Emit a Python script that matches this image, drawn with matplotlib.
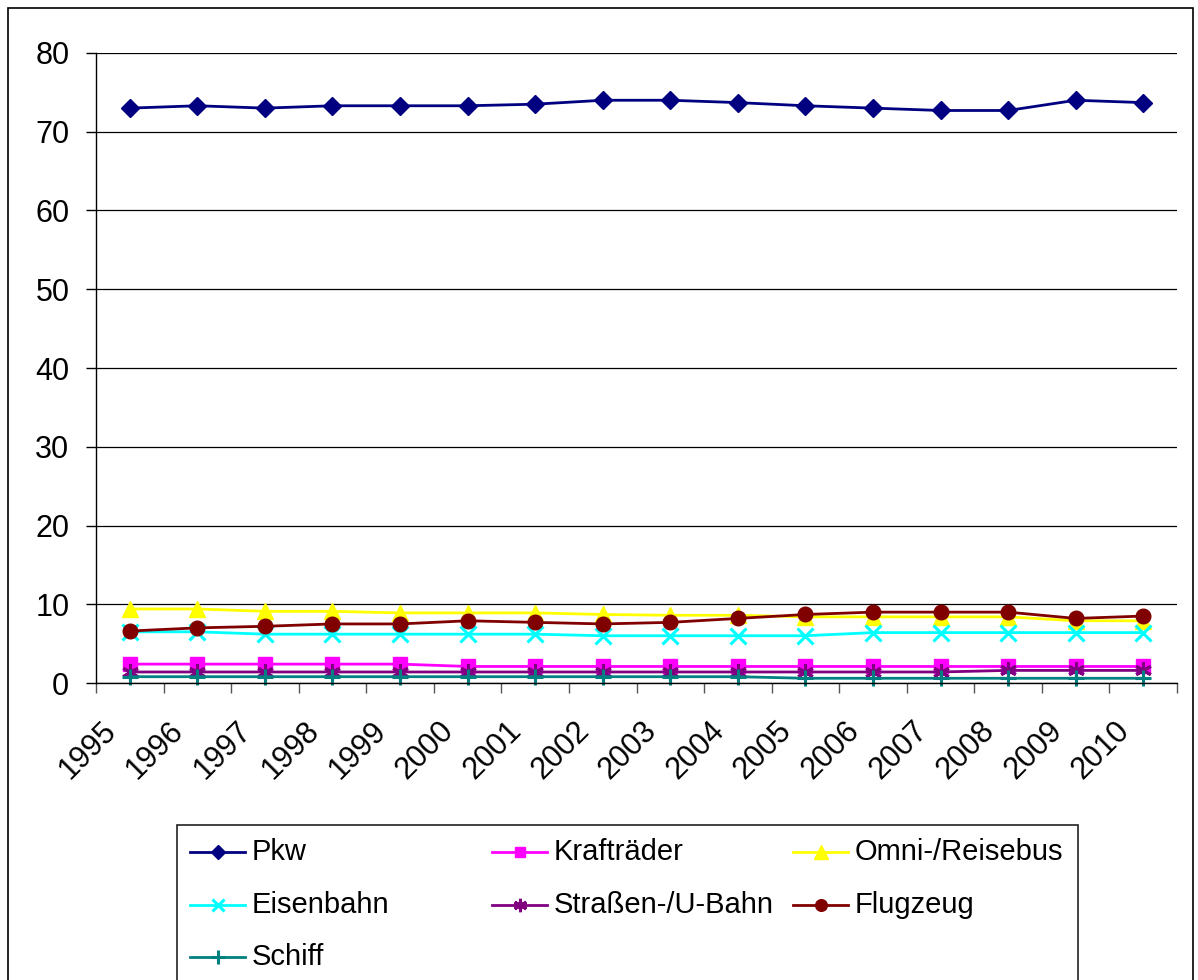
import matplotlib
matplotlib.use("Agg")
import matplotlib.pyplot as plt
from matplotlib.lines import Line2D
from matplotlib.patches import Rectangle
from matplotlib.transforms import ScaledTranslation
import numpy as np

plt.rcParams['font.family'] = ['Liberation Sans', 'DejaVu Sans']

years = ['1995', '1996', '1997', '1998', '1999', '2000', '2001', '2002',
         '2003', '2004', '2005', '2006', '2007', '2008', '2009', '2010']

pkw = [73.0, 73.3, 73.0, 73.3, 73.3, 73.3, 73.5, 74.0, 74.0, 73.7, 73.3, 73.0, 72.7, 72.7, 74.0, 73.7]
kraftraeder = [2.4, 2.4, 2.4, 2.4, 2.4, 2.1, 2.1, 2.1, 2.1, 2.1, 2.1, 2.1, 2.1, 2.1, 2.1, 2.1]
omnibus = [9.4, 9.4, 9.1, 9.1, 8.9, 8.9, 8.9, 8.7, 8.6, 8.6, 8.4, 8.4, 8.4, 8.4, 7.9, 7.9]
eisenbahn = [6.5, 6.5, 6.2, 6.2, 6.2, 6.2, 6.2, 6.0, 6.0, 6.0, 6.0, 6.4, 6.4, 6.4, 6.4, 6.4]
strassenbahn = [1.4, 1.4, 1.4, 1.4, 1.4, 1.4, 1.4, 1.4, 1.4, 1.4, 1.4, 1.4, 1.4, 1.6, 1.6, 1.6]
flugzeug = [6.6, 7.0, 7.2, 7.5, 7.5, 7.9, 7.7, 7.5, 7.7, 8.2, 8.7, 9.0, 9.0, 9.0, 8.2, 8.5]
schiff = [0.8, 0.8, 0.8, 0.8, 0.8, 0.8, 0.8, 0.8, 0.8, 0.8, 0.6, 0.6, 0.6, 0.6, 0.6, 0.6]

labels = ['Pkw', 'Krafträder', 'Omni-/Reisebus', 'Eisenbahn',
          'Straßen-/U-Bahn', 'Flugzeug', 'Schiff']
series = [pkw, kraftraeder, omnibus, eisenbahn, strassenbahn, flugzeug, schiff]
colors = ['#000080', '#FF00FF', '#FFFF00', '#00FFFF', '#800080', '#800000', '#008080']
markers = ['D', 's', '^', 'x', (6, 2, 0), 'o', '+']
msizes = [9.5, 9.5, 12, 11, 12, 10.5, 12]

W, H = 1198, 980
fig = plt.figure(figsize=(W / 100, H / 100), dpi=100)

def fx(x):
    return x / W

def fy(y):
    return 1 - y / H

ax = fig.add_axes([fx(96), fy(683), fx(1177) - fx(96), fy(53) - fy(683)])

x = np.arange(len(years))
lines = []
for vals, lab, c, m, ms in zip(series, labels, colors, markers, msizes):
    thin = m in ('x', '+') or isinstance(m, tuple)
    ln, = ax.plot(x, vals, color=c, marker=m, markersize=ms, lw=2.0,
                  markeredgewidth=2.2 if thin else 1,
                  markeredgecolor=c, markerfacecolor=c, label=lab, clip_on=False)
    lines.append(ln)

ax.set_xlim(-0.5, len(years) - 0.5)
ax.set_ylim(0, 80)
ax.set_yticks(np.arange(0, 81, 10))
ax.yaxis.grid(True, color='black', lw=0.9)
ax.set_axisbelow(True)
for s in ['top', 'right']:
    ax.spines[s].set_visible(False)
for s in ['left', 'bottom']:
    ax.spines[s].set_color('black')
    ax.spines[s].set_linewidth(1.0)

fs = 22
ax.tick_params(axis='y', direction='out', length=7.2, width=1, pad=12, labelsize=fs, colors='black')
ax.set_xticks(x)
ax.set_xticks(np.arange(-0.5, len(years), 1.0), minor=True)
ax.tick_params(axis='x', which='minor', direction='out', length=7.2, width=1, color='#555555')
ax.tick_params(axis='x', which='major', length=0, pad=31, labelsize=fs)
ax.set_xticklabels(years, rotation=45, ha='right', va='center', rotation_mode='anchor')
off = ScaledTranslation(-18 / 100, 0, fig.dpi_scale_trans)
for lbl in ax.get_xticklabels():
    lbl.set_transform(lbl.get_transform() + off)

# outer chart border
fig.add_artist(Rectangle((fx(8), fy(1000)), fx(1193) - fx(8), fy(8) - fy(1000),
                         transform=fig.transFigure, fill=False, edgecolor='black', lw=1.2))
# legend box
fig.add_artist(Rectangle((fx(177), fy(1000)), fx(1078) - fx(177), fy(825) - fy(1000),
                         transform=fig.transFigure, fill=False, edgecolor='#222222', lw=1.2))

col_x = [190, 492, 793]
row_y = [852, 905, 957]
order = [(0, 0), (0, 1), (0, 2), (1, 0), (1, 1), (1, 2), (2, 0)]
lfs = 21
for ln, (r, c) in zip(lines, order):
    x0 = col_x[c]
    y0 = row_y[r]
    h = Line2D([fx(x0), fx(x0 + 55)], [fy(y0), fy(y0)], transform=fig.transFigure,
               color=ln.get_color(), lw=2.0)
    fig.add_artist(h)
    mk = Line2D([fx(x0 + 27.5)], [fy(y0)], transform=fig.transFigure,
                color=ln.get_color(), marker=ln.get_marker(),
                markersize=ln.get_markersize() * 0.8,
                markeredgewidth=ln.get_markeredgewidth(),
                markerfacecolor=ln.get_color(), markeredgecolor=ln.get_color(), lw=0)
    fig.add_artist(mk)
    fig.text(fx(x0 + 62), fy(y0), ln.get_label(), fontsize=lfs, va='center', ha='left')

fig.savefig('out.png', dpi=100)
